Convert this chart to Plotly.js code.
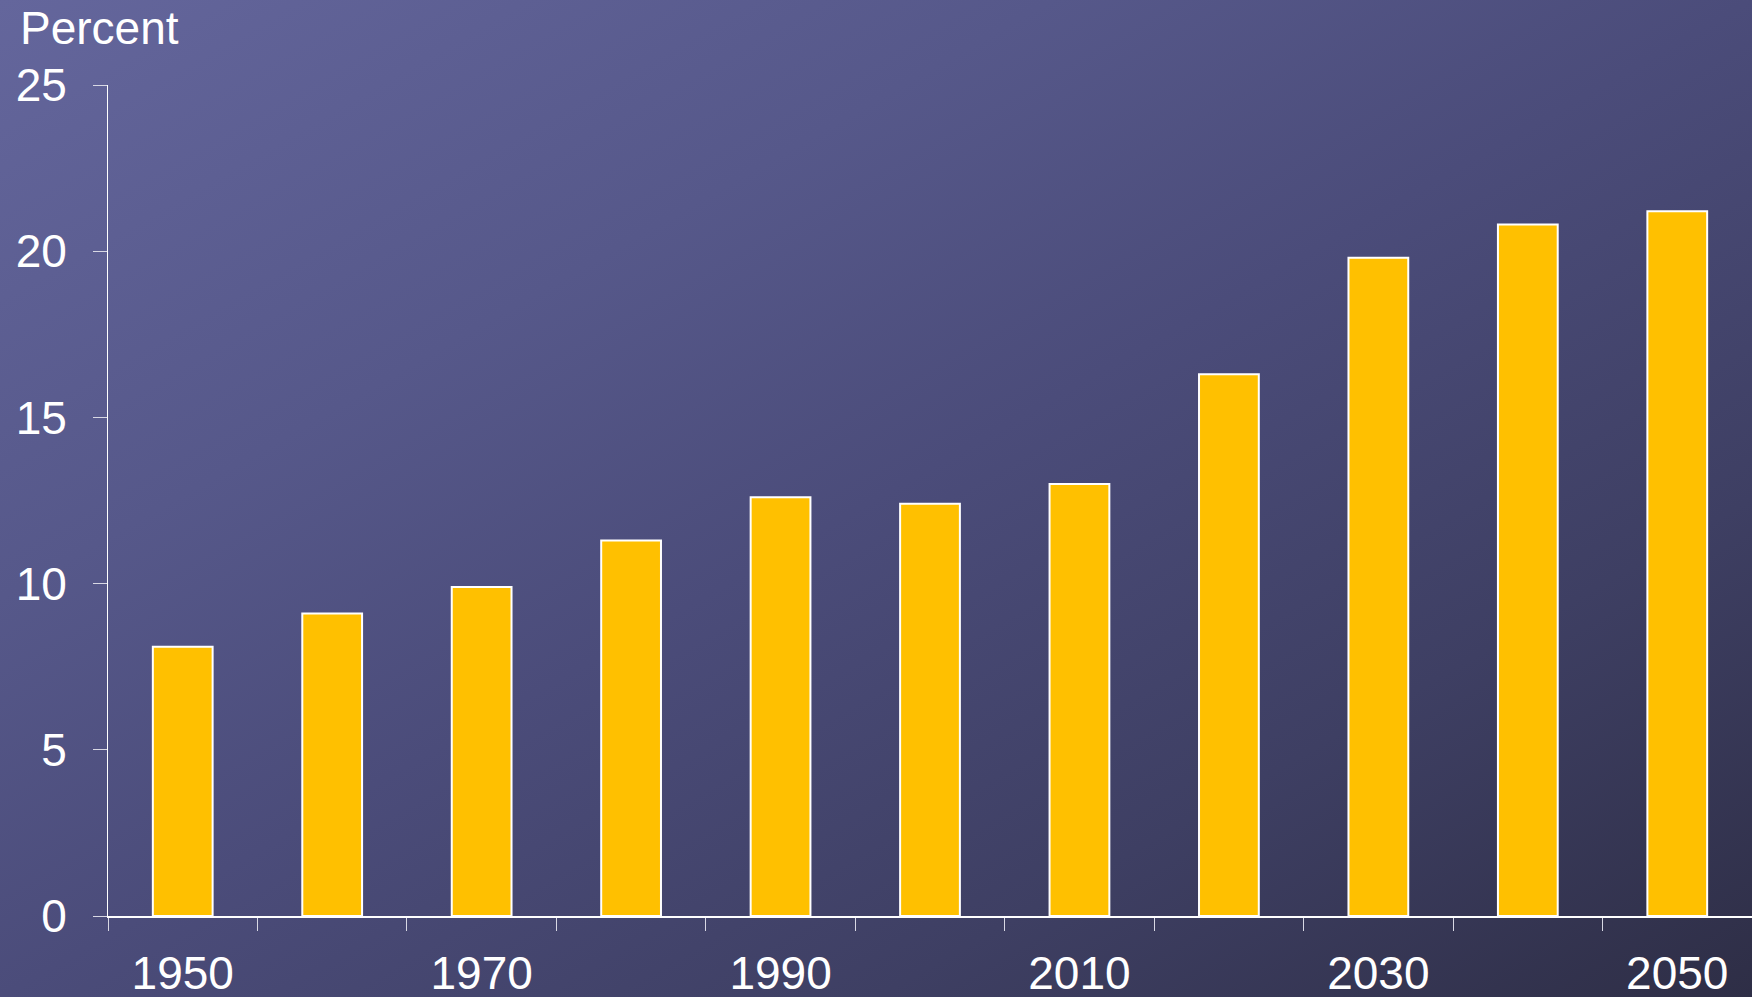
<!DOCTYPE html>
<html>
<head>
<meta charset="utf-8">
<script src="https://cdn.plot.ly/plotly-3.0.1.min.js"></script>
<style>
  html, body { margin: 0; padding: 0; width: 1752px; height: 997px; overflow: hidden; }
  body { background: linear-gradient(to bottom right, #64669c 0%, #56588a 30%, #4b4c7a 50%, #3e3f63 75%, #2e2e46 100%); }
  #chart { width: 1752px; height: 997px; }
</style>
</head>
<body>
<div id="chart"></div>
<script>
const years = [1950, 1960, 1970, 1980, 1990, 2000, 2010, 2020, 2030, 2040, 2050];
const percent = [8.1, 9.1, 9.9, 11.3, 12.6, 12.4, 13.0, 16.3, 19.8, 20.8, 21.2];
const xTickVals = [1950, 1970, 1990, 2010, 2030, 2050];
const xTickText = ["1950", "1970", "1990", "2010", "2030", "2050"];
const xBoundaries = [1945, 1955, 1965, 1975, 1985, 1995, 2005, 2015, 2025, 2035, 2045, 2055];
const yTickVals = [0, 5, 10, 15, 20, 25];
const yAxisLabel = "Percent";

const font = { family: "Liberation Sans, Arial, sans-serif", size: 46, color: "#ffffff" };

const trace = {
  type: "bar",
  x: years,
  y: percent,
  marker: { color: "#FFC000", line: { color: "#ffffff", width: 2 } },
  hoverinfo: "x+y"
};

const layout = {
  width: 1752,
  height: 997,
  paper_bgcolor: "rgba(0,0,0,0)",
  plot_bgcolor: "rgba(0,0,0,0)",
  margin: { l: 108, r: 0, t: 85, b: 81, pad: 0 },
  bargap: 0.6,
  showlegend: false,
  font: font,
  xaxis: {
    type: "linear",
    range: [1945, 2055],
    tickmode: "array",
    tickvals: xTickVals,
    ticktext: xTickText,
    ticks: "",
    showgrid: false,
    zeroline: false,
    showline: true,
    linecolor: "#ffffff",
    linewidth: 1.5,
    tickfont: font,
    ticklabelstandoff: 16,
    minor: {
      tickmode: "array",
      tickvals: xBoundaries,
      ticks: "outside",
      ticklen: 13,
      tickwidth: 1,
      tickcolor: "#d8d8e4",
      showgrid: false
    }
  },
  yaxis: {
    range: [0, 25],
    tickmode: "array",
    tickvals: yTickVals,
    ticks: "outside",
    ticklen: 14,
    tickwidth: 1,
    tickcolor: "#d8d8e4",
    showgrid: false,
    zeroline: false,
    showline: true,
    linecolor: "#ffffff",
    linewidth: 1,
    tickfont: font,
    ticklabelstandoff: 17
  },
  annotations: [{
    text: yAxisLabel,
    xref: "paper", yref: "paper",
    x: -108 / 1644, y: 1 + 85 / 831,
    xanchor: "left", yanchor: "top",
    xshift: 18, yshift: 0,
    showarrow: false,
    font: font
  }]
};

Plotly.newPlot("chart", [trace], layout, { displayModeBar: false, staticPlot: true });
</script>
</body>
</html>
